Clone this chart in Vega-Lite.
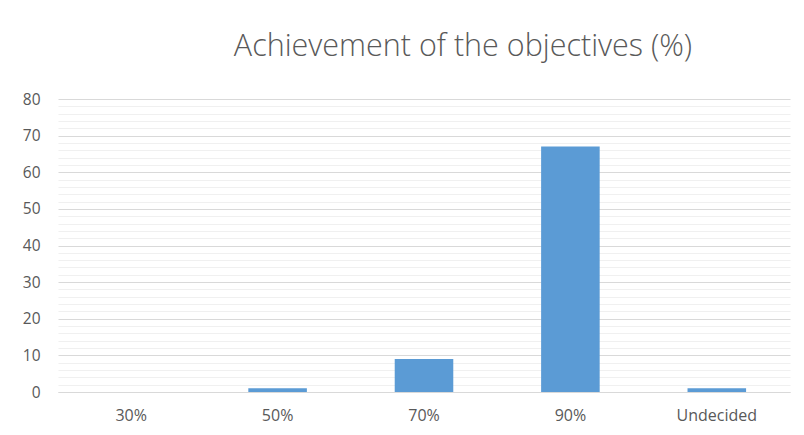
{
  "$schema": "https://vega.github.io/schema/vega-lite/v6.json",
  "width": 732,
  "height": 293,
  "autosize": {"type": "none"},
  "padding": {"left": 58, "top": 99, "right": 14, "bottom": 43},
  "background": "white",
  "title": {
    "text": "Achievement of the objectives (%)",
    "font": "Open Sans",
    "fontSize": 30.5,
    "fontWeight": 300,
    "color": "#595959",
    "anchor": "middle",
    "dx": 39,
    "offset": 30
  },
  "data": {
    "values": [
      {"category": "30%", "value": 0},
      {"category": "50%", "value": 1},
      {"category": "70%", "value": 9},
      {"category": "90%", "value": 67},
      {"category": "Undecided", "value": 1}
    ]
  },
  "mark": {"type": "bar", "color": "#5b9bd5"},
  "encoding": {
    "x": {
      "field": "category",
      "type": "nominal",
      "sort": null,
      "scale": {"paddingInner": 0.6, "paddingOuter": 0.3},
      "axis": {
        "title": null,
        "labelAngle": 0,
        "labelFont": "Open Sans",
        "labelFontSize": 16,
        "labelColor": "#595959",
        "labelPadding": 15,
        "ticks": false,
        "domainColor": "#d9d9d9",
        "domainWidth": 1.2,
        "grid": false
      }
    },
    "y": {
      "field": "value",
      "type": "quantitative",
      "scale": {"domain": [0, 80], "nice": false},
      "axis": {
        "title": null,
        "values": [0,2,4,6,8,10,12,14,16,18,20,22,24,26,28,30,32,34,36,38,40,42,44,46,48,50,52,54,56,58,60,62,64,66,68,70,72,74,76,78,80],
        "labelExpr": "datum.value % 10 === 0 ? datum.label : ''",
        "labelFont": "Open Sans",
        "labelFontSize": 15.5,
        "labelColor": "#595959",
        "labelPadding": 18,
        "ticks": false,
        "domain": false,
        "grid": true,
        "gridColor": {"condition": {"test": "datum.value % 10 === 0", "value": "#d9d9d9"}, "value": "#f0f0f0"},
        "gridWidth": 1.2
      }
    }
  },
  "config": {"view": {"stroke": null}}
}
